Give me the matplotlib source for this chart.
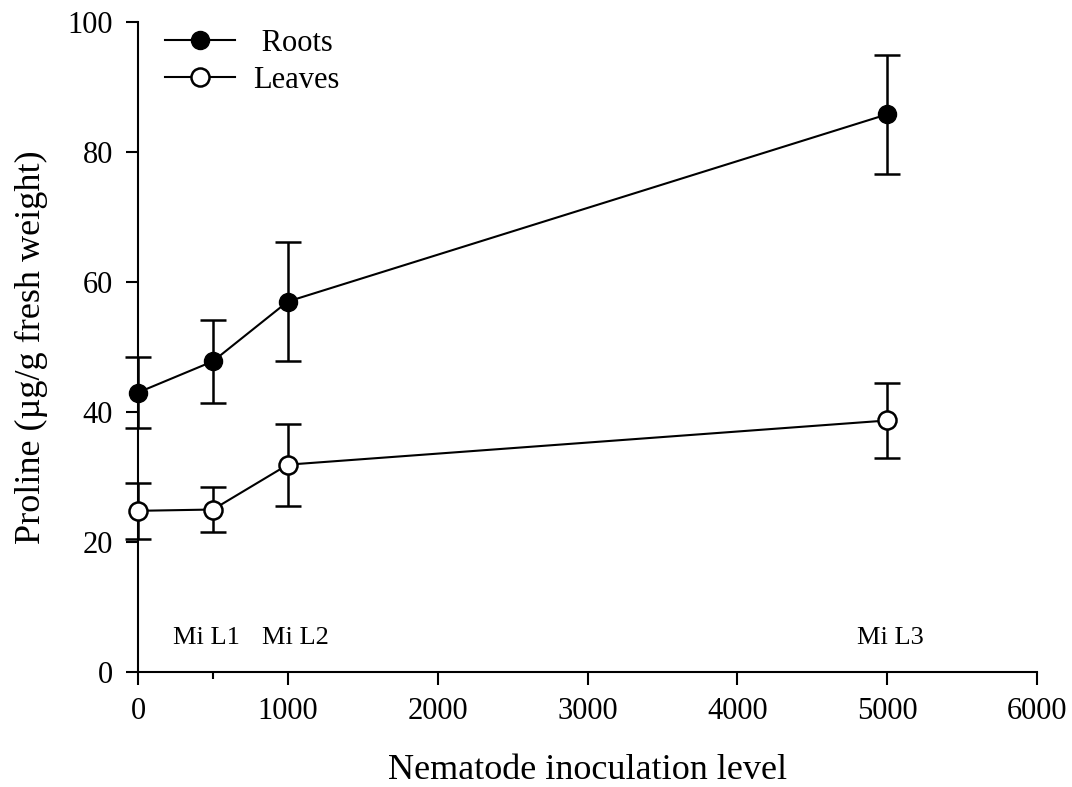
import matplotlib
matplotlib.use("Agg")
import matplotlib.pyplot as plt
from matplotlib.ticker import MultipleLocator, FixedLocator

plt.rcParams['font.family'] = ['Liberation Serif', 'DejaVu Serif']

levels = [0, 500, 1000, 5000]
roots = [43.0, 47.8, 57.0, 85.8]
roots_err = [5.5, 6.4, 9.1, 9.2]
leaves = [24.8, 25.0, 31.9, 38.7]
leaves_err = [4.3, 3.4, 6.3, 5.8]
level_labels = ["Mi L1", "Mi L2", "Mi L3"]
label_x = [460, 1050, 5020]

fig = plt.figure(figsize=(10.72, 7.87), dpi=100)
ax = fig.add_axes([0.1287, 0.1461, 0.9674 - 0.1287, 0.972 - 0.1461])

c1 = ax.errorbar(levels, roots, yerr=roots_err, color='black', marker='o', markersize=13,
                 markerfacecolor='black', markeredgecolor='black', linewidth=1.5,
                 elinewidth=1.8, capsize=9.5, capthick=1.8, clip_on=False, zorder=3)
c2 = ax.errorbar(levels, leaves, yerr=leaves_err, color='black', marker='o', markersize=13,
                 markerfacecolor='white', markeredgecolor='black', markeredgewidth=1.8, linewidth=1.5,
                 elinewidth=1.8, capsize=9.5, capthick=1.8, clip_on=False, zorder=3)

for t, x in zip(level_labels, label_x):
    ax.text(x, 5.2, t, ha='center', va='center', fontsize=19)

ax.set_xlim(0, 6000)
ax.set_ylim(0, 100)
ax.xaxis.set_major_locator(MultipleLocator(1000))
ax.xaxis.set_minor_locator(FixedLocator([500]))
ax.yaxis.set_major_locator(MultipleLocator(20))
ax.spines['top'].set_visible(False)
ax.spines['right'].set_visible(False)
for s in ['left', 'bottom']:
    ax.spines[s].set_linewidth(1.5)
ax.tick_params(axis='both', which='major', direction='out', length=9, width=1.5, labelsize=22, pad=9)
ax.tick_params(axis='x', which='minor', direction='out', length=5, width=1.5)
ax.tick_params(axis='y', which='minor', left=False)

ax.set_xlabel('Nematode inoculation level', fontsize=26, labelpad=20)
ax.set_ylabel('Proline (µg/g fresh weight)', fontsize=26, labelpad=14)

ax.legend([c1.lines[0], c2.lines[0]], [' Roots', 'Leaves'],
          loc='upper left', bbox_to_anchor=(0.03, 0.99), frameon=False, fontsize=22,
          handlelength=2.3, handletextpad=0.6, labelspacing=0.28,
          borderpad=0, borderaxespad=0)

fig.savefig('out.png', dpi=100)
